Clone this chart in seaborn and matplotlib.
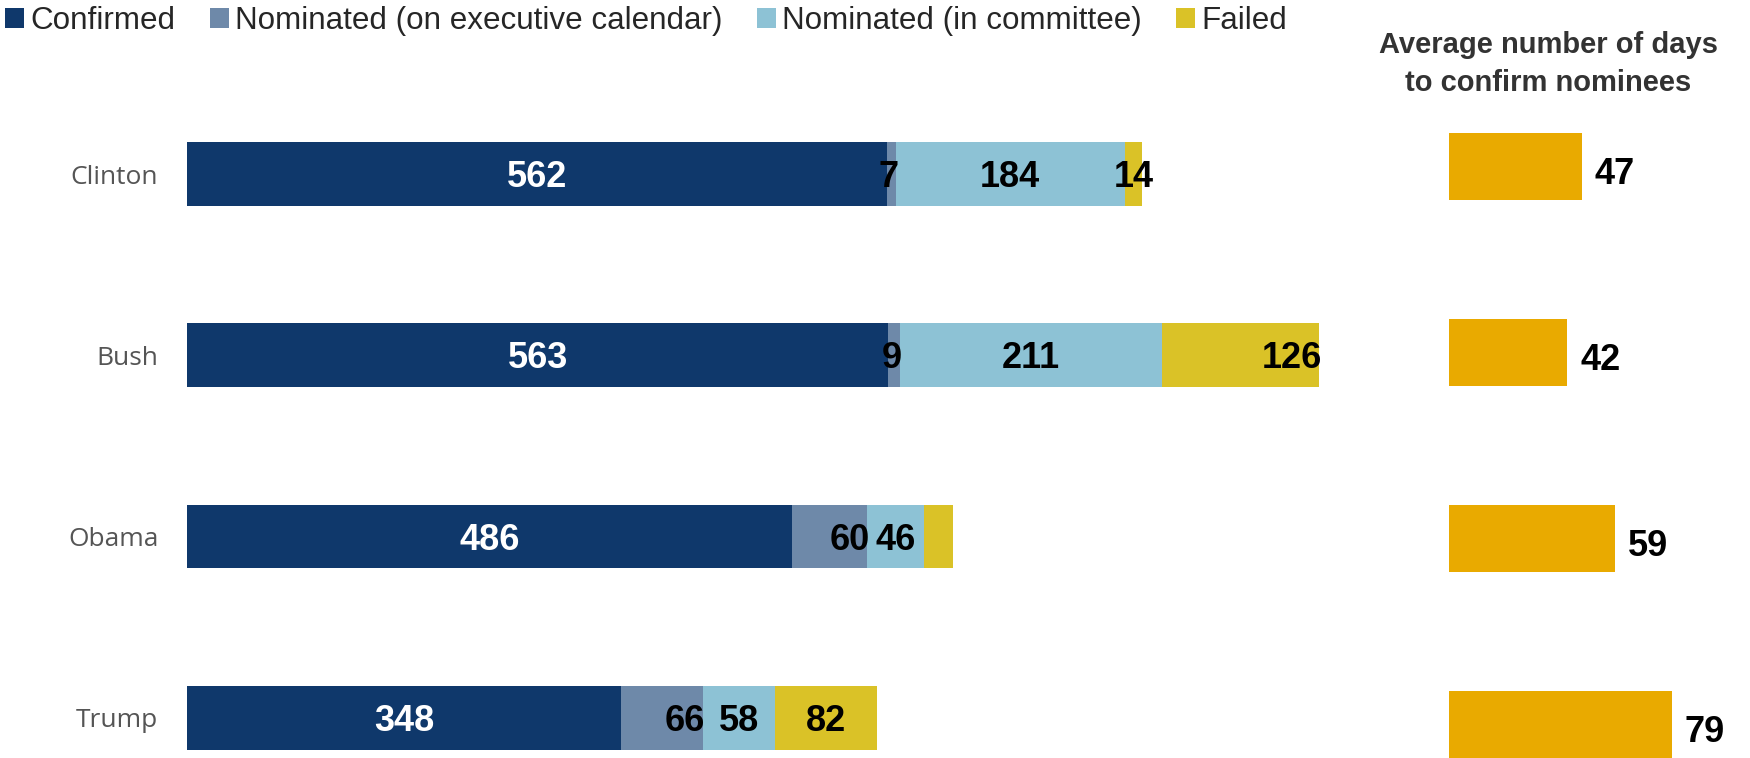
import numpy as np
import seaborn as sns
import matplotlib.pyplot as plt
from matplotlib.patches import Patch

# data
presidents = ["Clinton", "Bush", "Obama", "Trump"]
confirmed = [562, 563, 486, 348]
nominated_exec = [7, 9, 60, 66]
nominated_committee = [184, 211, 46, 58]
failed = [14, 126, 23, 82]
failed_labels = ["14", "126", "", "82"]
avg_days = [47, 42, 59, 79]

statuses = ["Confirmed", "Nominated (on executive calendar)", "Nominated (in committee)", "Failed"]
colors = ["#0f386b", "#6e89a9", "#8dc2d5", "#dac227"]
days_color = "#e9aa00"

sns.set_theme(style="white")
plt.rcParams["font.family"] = ["Liberation Sans", "DejaVu Sans"]

series = [confirmed, nominated_exec, nominated_committee, failed]
labels = [[str(v) for v in confirmed], [str(v) for v in nominated_exec],
          [str(v) for v in nominated_committee], failed_labels]
cum = np.cumsum(np.array(series), axis=0)

fig = plt.figure(figsize=(17.5, 7.58), dpi=100)

# stacked bars: draw cumulative totals from the outermost segment inwards
ax = fig.add_axes([0.1071, 0.0053, 0.7114, 0.8847])
for i in range(3, -1, -1):
    sns.barplot(x=cum[i], y=presidents, color=colors[i], width=0.353, orient="h",
                saturation=1, linewidth=0, ax=ax)
ax.set_xlim(0, 1000)
ax.set_ylim(3.2, -0.5)

# which labels sit at the right end of their segment instead of the middle
end_anchored = {(1, 0), (1, 1), (1, 2), (1, 3), (3, 1)}

for i in range(4):
    for j in range(4):
        end = cum[i][j]
        start = end - series[i][j]
        if (i, j) in end_anchored:
            xpos, ha = end + 2, "right"
        else:
            xpos, ha = (start + end) / 2, "center"
        ax.text(xpos, j + 0.02, labels[i][j], ha=ha, va="center", fontsize=26,
                fontweight="bold", color="white" if i == 0 else "black")

ax.set_xlabel("")
ax.set_ylabel("")
ax.set_xticks([])
ax.tick_params(axis="y", length=0, pad=21, labelcolor="#555555", labelsize=19)
for t in ax.get_yticklabels():
    t.set_fontfamily("Open Sans")
sns.despine(ax=ax, left=True, bottom=True)

# right panel: average days to confirm
ax2 = fig.add_axes([0.828, -0.005, 0.1611, 0.9077])
sns.barplot(x=avg_days, y=presidents, color=days_color, width=0.36, orient="h",
            saturation=1, linewidth=0, ax=ax2)
ax2.set_xlim(0, 100)
ax2.set_ylim(3.2, -0.5)
for j, v in enumerate(avg_days):
    ax2.text(v + 4.6, j + 0.04, str(v), ha="left", va="center", fontsize=26,
             fontweight="bold", color="black")
ax2.set_xlabel("")
ax2.set_ylabel("")
ax2.set_xticks([])
ax2.set_yticks([])
sns.despine(ax=ax2, left=True, bottom=True)

fig.text(0.8846, 0.915, "Average number of days\nto confirm nominees", ha="center", va="center",
         fontsize=21, fontweight="bold", color="#333333", linespacing=1.45)

handles = [Patch(facecolor=c, edgecolor="none", label=s) for c, s in zip(colors, statuses)]
fig.legend(handles=handles, loc="upper left", bbox_to_anchor=(0.003, 0.992), ncol=4, frameon=False,
           fontsize=22.6, handlelength=0.6, handleheight=0.6, handletextpad=0.2,
           columnspacing=1.1, borderaxespad=0, borderpad=0)

plt.savefig("out.png", dpi=100)
